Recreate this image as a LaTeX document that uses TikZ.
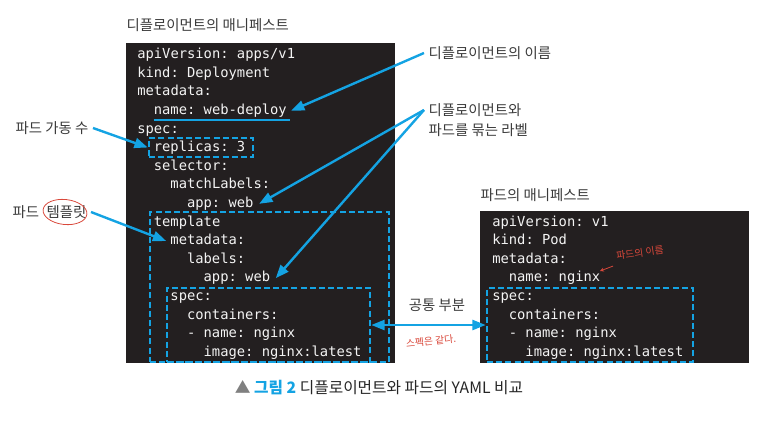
\documentclass[tikz,border=0pt]{standalone}
\usepackage{fontspec}
\setmainfont{Noto Sans CJK KR}
\setmonofont{DejaVu Sans Mono}
\usepackage{xcolor}
\usepackage{tikz}
\usetikzlibrary{arrows.meta, positioning, fit}
\definecolor{codebg}{HTML}{231F20}
\definecolor{codetxt}{HTML}{F4F4F4}
\definecolor{kblue}{HTML}{14A3E3}
\definecolor{inkred}{HTML}{D9483B}
\definecolor{txtgray}{HTML}{3A3A3A}
\begin{document}
\begin{tikzpicture}[
    x=0.75pt, y=-0.75pt,
    codebox/.style={fill=codebg, inner sep=0pt},
    code/.style={anchor=west, inner xsep=0pt, inner ysep=1.5pt, text height=0.8em, text depth=0.25em,
        font=\fontsize{10.35}{12}\ttfamily, text=codetxt},
    hilite/.style={draw=kblue, line width=1.9pt, dash pattern=on 4.5pt off 2.4pt, inner sep=0pt},
    note/.style={text=txtgray, font=\fontsize{10.8}{15}\selectfont, align=left},
    pointer/.style={draw=kblue, line width=1.8pt, -{Triangle[length=10pt,width=7.5pt]}},
    scribble/.style={text=inkred, font=\fontsize{7.4}{8}\selectfont}
]
\useasboundingbox (0,0) rectangle (780,425);

% Deployment manifest
\node[codebox, fit={(126,43) (395,363)}] (deploy) {};
\node[note, anchor=west] (deploytitle) at (122,25) {디플로이먼트의 매니페스트};
\foreach \i/\l/\t in {1/0/{apiVersion: apps/v1}, 2/0/{kind: Deployment}, 3/0/{metadata:},
    4/1/{name: web-deploy}, 5/0/{spec:}, 6/1/{replicas: 3}, 7/1/{selector:},
    8/2/{matchLabels:}, 9/3/{app: web}, 10/1/{template}, 11/2/{metadata:},
    12/3/{labels:}, 13/4/{app: web}, 14/2/{spec:}, 15/3/{containers:},
    16/3/{- name: nginx}, 17/4/{image: nginx:latest}}
    \node[code] (d\i) at ({137+16.6*\l}, {55+18.6*(\i-1)}) {\t};
\draw[kblue, line width=0.9pt] (d4.south west) -- ([xshift=2pt]d4.south east);

% Pod manifest
\node[codebox, fit={(480,211) (749,363)}] (pod) {};
\node[note, anchor=west] (podtitle) at (476,195) {파드의 매니페스트};
\foreach \i/\l/\t in {1/0/{apiVersion: v1}, 2/0/{kind: Pod}, 3/0/{metadata:},
    4/1/{name: nginx}, 5/0/{spec:}, 6/1/{containers:}, 7/1/{- name: nginx},
    8/2/{image: nginx:latest}}
    \node[code] (p\i) at ({492+16.6*\l}, {55+18.6*(\i+8)}) {\t};

% Dashed highlights
\node[hilite, fit={(149,138) (253,157)}] (reps) {};
\node[hilite, fit={(150,212) (389,362)}] (tpl) {};
\node[hilite, fit={(167,288) (370,362)}] (specL) {};
\node[hilite, fit={(487,288) (693,362)}] (specR) {};

% Callouts
\node[note, anchor=west] (lblname) at (424,53) {디플로이먼트의 이름};
\node[note, anchor=west] (lblsel) at (424,120) {디플로이먼트와\\파드를 묶는 라벨};
\coordinate (selfrom) at ([yshift=7.5pt]lblsel.west);
\node[note, anchor=east] (lblreps) at (93,128) {파드 가동 수};
\node[note, anchor=east] (lbltpl) at (91,212) {파드\hspace{0.3em} 템플릿};
\draw[inkred, line width=0.6pt, rotate around={-6:(65,212)}] (65,212) ellipse [x radius=22, y radius=12.5];

\draw[pointer] (lblname.west) -- ([xshift=3pt]d4.east);
\draw[pointer] (selfrom) -- ([xshift=4pt]d9.east);
\draw[pointer] (selfrom) -- ([xshift=4pt]d13.east);
\draw[pointer] (lblreps.east) -- (reps.west);
\draw[pointer] (lbltpl.east) -- ([xshift=-3pt]d11.west);

% Common part
\node[note] (common) at (437,305) {공통 부분};
\draw[draw=kblue, line width=1.8pt, {Triangle[length=10pt,width=7.5pt]}-{Triangle[length=10pt,width=7.5pt]}]
    (specL.east) -- (specR.west);

% Hand notes
\node[scribble, rotate=6] (same) at (431,341) {스펙은 같다.};
\node[scribble, rotate=8] (podname) at (640,253) {파드의 이름};
\draw[inkred, line width=0.6pt, -{Stealth[length=3pt,width=3pt]}] (podname.south west) -- (600,271);

% Caption
\node[font=\fontsize{11.8}{14}\selectfont, text=black!85] (caption) at (379,388)
    {{\color{gray}▲}\ {\bfseries\color{kblue}그림 2}\ 디플로이먼트와 파드의 YAML 비교};
\end{tikzpicture}
\end{document}
